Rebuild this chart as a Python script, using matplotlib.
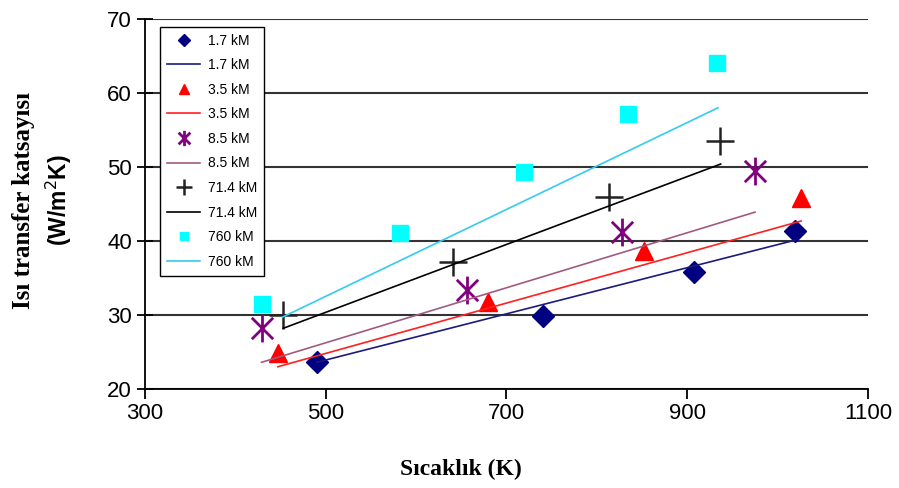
import matplotlib.pyplot as plt
from matplotlib.path import Path

# measured points (K, W/m2K)
x_17 = [490, 740, 907, 1019]
y_17 = [23.6, 29.9, 35.8, 41.4]
x_35 = [447, 680, 852, 1026]
y_35 = [24.9, 31.8, 38.6, 45.8]
x_85 = [429, 656, 828, 975]
y_85 = [28.2, 33.4, 41.2, 49.5]
x_714 = [453, 641, 813, 936]
y_714 = [30.0, 37.2, 45.9, 53.5]
x_760 = [430, 582, 719, 835, 933]
y_760 = [31.5, 41.1, 49.3, 57.2, 64.1]

# model lines (start, end)
lx_17 = [490, 1019]
ly_17 = [23.6, 40.1]
lx_35 = [447, 1026]
ly_35 = [23.0, 42.7]
lx_85 = [429, 975]
ly_85 = [23.6, 43.9]
lx_714 = [453, 937]
ly_714 = [28.2, 50.4]
lx_760 = [452, 934]
ly_760 = [29.7, 58.0]

labels = ["1.7 kM", "3.5 kM", "8.5 kM", "71.4 kM", "760 kM"]

# asterisk marker like Excel's star: X plus vertical bar
star = Path([(-1, -1), (1, 1), (-1, 1), (1, -1), (0, -1.3), (0, 1.3)],
            [Path.MOVETO, Path.LINETO, Path.MOVETO, Path.LINETO, Path.MOVETO, Path.LINETO])

fig = plt.figure(figsize=(8.99, 4.88), dpi=100)
ax = fig.add_axes([0.1613, 0.203, 0.8042, 0.758])

ax.plot(x_17, y_17, ls="none", marker="D", color="#000080", ms=11, label=labels[0])
ax.plot(lx_17, ly_17, color="#1a1a80", lw=1.2, label=labels[0])
ax.plot(x_35, y_35, ls="none", marker="^", color="#ff0000", ms=13, label=labels[1])
ax.plot(lx_35, ly_35, color="#ff2020", lw=1.2, label=labels[1])
ax.plot(x_85, y_85, ls="none", marker=star, color="#800080", ms=20, mew=2, label=labels[2])
ax.plot(lx_85, ly_85, color="#a05a80", lw=1.2, label=labels[2])
ax.plot(x_714, y_714, ls="none", marker="+", color="#222222", ms=20, mew=1.8, label=labels[3])
ax.plot(lx_714, ly_714, color="black", lw=1.2, label=labels[3])
ax.plot(x_760, y_760, ls="none", marker="s", color="#00ffff", ms=11, label=labels[4])
ax.plot(lx_760, ly_760, color="#33ccee", lw=1.2, label=labels[4])

ax.set_xlim(300, 1100)
ax.set_ylim(20, 70)
ax.set_xticks([300, 500, 700, 900, 1100])
ax.set_yticks([20, 30, 40, 50, 60, 70])
ax.yaxis.grid(True, color="#333333", lw=1.5)
ax.set_axisbelow(True)
for s in ["top", "right"]:
    ax.spines[s].set_visible(False)
for s in ["left", "bottom"]:
    ax.spines[s].set_linewidth(1.3)
ax.tick_params(axis="y", direction="inout", length=11, width=1.3, labelsize=16, pad=4)
ax.tick_params(axis="x", direction="out", length=7, width=1.3, labelsize=16, pad=3)
for lab in ax.get_xticklabels() + ax.get_yticklabels():
    lab.set_family("Liberation Sans")

leg = ax.legend(loc="upper left", bbox_to_anchor=(0.011, 0.998), prop={"family": "Liberation Sans", "size": 10},
                markerscale=0.55, handlelength=2.4, handletextpad=0.55, labelspacing=0.76, borderpad=0.5,
                fancybox=False, framealpha=1, edgecolor="black")
leg.get_frame().set_linewidth(1.0)

fig.text(0.513, 0.037, "Sıcaklık (K)", family="Liberation Serif", weight="bold", fontsize=17,
         ha="center", va="center")
fig.text(0.026, 0.59, "Isı transfer katsayısı", family="Liberation Serif", weight="bold", fontsize=18,
         rotation=90, ha="center", va="center")
fig.text(0.065, 0.59, "(W/m$^2$K)", family="Liberation Sans", weight="bold", fontsize=16.5,
         rotation=90, ha="center", va="center")

fig.savefig("out.png", dpi=100)
